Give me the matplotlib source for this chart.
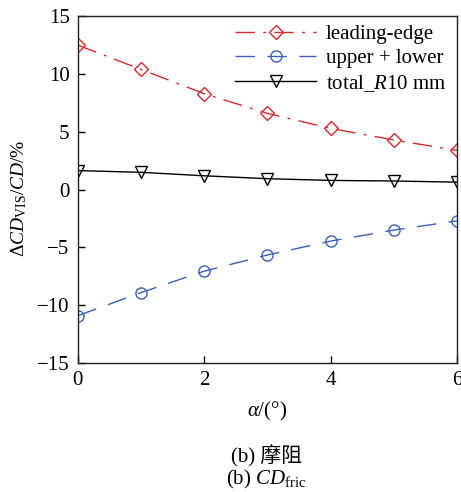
import matplotlib
matplotlib.use("Agg")
import matplotlib.pyplot as plt

plt.rcParams['font.family'] = ['Liberation Serif', 'Noto Sans CJK SC']
plt.rcParams['mathtext.fontset'] = 'custom'
plt.rcParams['mathtext.rm'] = 'Liberation Serif'
plt.rcParams['mathtext.it'] = 'Liberation Serif:italic'
plt.rcParams['mathtext.bf'] = 'Liberation Serif:bold'

alpha = [0, 1, 2, 3, 4, 5, 6]
leading_edge = [12.5, 10.4, 8.3, 6.6, 5.3, 4.3, 3.4]
upper_lower = [-10.9, -8.9, -7.05, -5.65, -4.45, -3.5, -2.7]
total_R10 = [1.65, 1.5, 1.2, 0.95, 0.8, 0.75, 0.65]

xticks = [0, 2, 4, 6]
yticks = [-15, -10, -5, 0, 5, 10, 15]

fig = plt.figure(figsize=(4.61, 4.92), dpi=100)
ax = fig.add_axes([0.169, 0.262, 0.822, 0.705])

red = '#d62a2f'
blue = '#3a5fb8'
ax.plot(alpha, leading_edge, color=red, lw=1.0, dashes=(14, 6, 2, 6),
        marker='D', ms=7.5, mfc='none', mec=red, mew=1.0, label='leading-edge')
ax.plot(alpha, upper_lower, color=blue, lw=1.0, dashes=(14, 9),
        marker='o', ms=8, mfc='none', mec=blue, mew=1.0, label='upper + lower')
ax.plot(alpha, total_R10, color='black', lw=1.0,
        marker='v', ms=8, mfc='none', mec='black', mew=1.0, label=r'total_$\mathit{R}$10 mm')

ax.set_xlim(0, 6)
ax.set_ylim(-15, 15)
ax.set_xticks(xticks)
ax.set_yticks(yticks)
ax.set_yticklabels([str(v).replace('-', '\u2212') for v in yticks])
ax.tick_params(direction='in', length=5, width=1, labelsize=15, top=False, right=False, pad=6)
for s in ax.spines.values():
    s.set_linewidth(1.0)
    s.set_color('#222222')

ax.set_xlabel(r'$\alpha$/(°)', fontsize=15, labelpad=7)
ax.set_ylabel(r'$\Delta\mathit{CD}_{\mathrm{VIS}}/\mathit{CD}$/%', fontsize=14)
ax.yaxis.set_label_coords(-0.13, 0.475)

ax.legend(loc='upper right', frameon=False, fontsize=15, handlelength=3.9,
          borderaxespad=0.0, labelspacing=0.22, handletextpad=0.45,
          bbox_to_anchor=(0.994, 1.0))

fig.text(0.578, 0.073, '(b) 摩阻', ha='center', va='center', fontsize=15)
fig.text(0.578, 0.025, r'(b) $\mathit{CD}_{\mathrm{fric}}$', ha='center', va='center', fontsize=15)

fig.savefig('out.png', dpi=100)
